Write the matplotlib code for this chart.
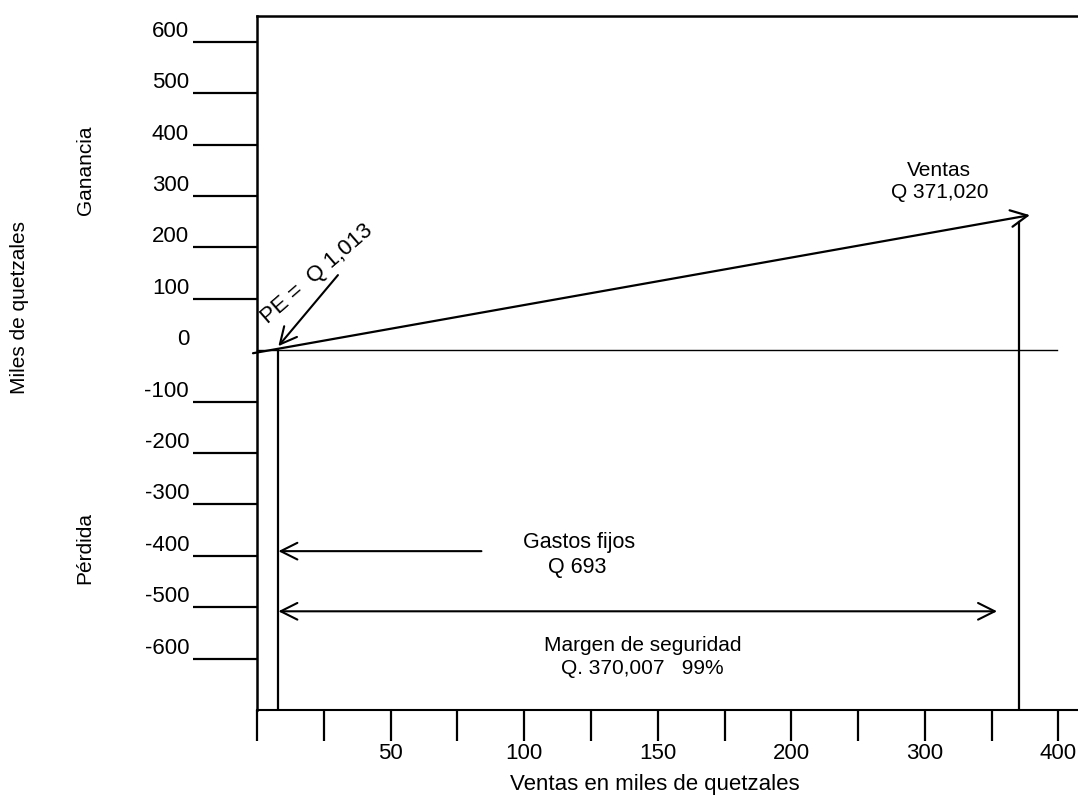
import matplotlib
matplotlib.use("Agg")
import matplotlib.pyplot as plt

plt.rcParams['font.family'] = ['Liberation Sans', 'DejaVu Sans']
FS = 15
FS_TICK = 16

# ---- data (in chart units) ----
y_ticks = [600, 500, 400, 300, 200, 100, 0, -100, -200, -300, -400, -500, -600]
y_tick_labels = ['600', '500', '400', '300', '200', '100', '0',
                 '-100', '-200', '-300', '-400', '-500', '-600']
x_ticks = [0, 25, 50, 75, 100, 125, 150, 175, 200, 225, 250, 275, 300]
x_tick_labels = ['', '', '50', '', '100', '', '150', '', '200', '', '300', '', '400']

breakeven_x = 8.0          # PE = Q 1,013
sales_line_x = [-1.5, 289.3]
sales_line_y = [-6.0, 262.6]
sales_vline_x = 285.2
sales_vline_top = 249.0
fixed_cost_arrow_x = [84.0, breakeven_x]
fixed_cost_arrow_y = -391.0
margin_arrow_x = [breakeven_x, 277.0]
margin_arrow_y = -508.0
pe_arrow_start = (30.3, 146.0)
pe_arrow_end = (breakeven_x, 7.8)

W, H = 1078, 798
fig = plt.figure(figsize=(W / 100, H / 100), dpi=100)
ax = fig.add_axes([257 / W, (H - 710) / H, (W - 257) / W, (710 - 16) / H])
ax.set_xlim(0, 307.3)
ax.set_ylim(-700, 650)
ax.patch.set_alpha(0)

for s in ['top', 'left']:
    ax.spines[s].set_linewidth(1.8)
ax.spines['bottom'].set_linewidth(1.5)
ax.spines['right'].set_visible(False)

# x ticks
ax.set_xticks(x_ticks)
ax.set_xticklabels(x_tick_labels, fontsize=FS_TICK)
ax.tick_params(axis='x', direction='out', length=22, width=1.6, pad=2)

# y ticks (0 has a label but no tick mark)
ax.set_yticks(y_ticks)
ax.set_yticklabels([])
ax.tick_params(axis='y', direction='out', length=46, width=1.6)
for t, v in zip(ax.yaxis.get_major_ticks(), y_ticks):
    if v == 0:
        t.tick1line.set_visible(False)
px_x = 821 / 307.3
px_y = 694 / 1350
for v, lab in zip(y_ticks, y_tick_labels):
    ax.text(-68 / px_x, v + 5 / px_y, lab, ha='right', va='baseline',
            fontsize=FS_TICK, clip_on=False)

# zero line
ax.plot([0, 299.4], [0, 0], color='black', lw=1.0, clip_on=False)

# sales line with arrow
ax.annotate('', xy=(sales_line_x[1], sales_line_y[1]),
            xytext=(sales_line_x[0], sales_line_y[0]),
            arrowprops=dict(arrowstyle='->,head_length=0.6,head_width=0.3',
                            mutation_scale=20, lw=1.6, color='black',
                            shrinkA=0, shrinkB=0),
            annotation_clip=False)

# vertical lines
ax.plot([breakeven_x, breakeven_x], [-700, 0], color='black', lw=1.6)
ax.plot([sales_vline_x, sales_vline_x], [-700, sales_vline_top], color='black', lw=1.6)

# PE arrow
ax.annotate('', xy=pe_arrow_end, xytext=pe_arrow_start,
            arrowprops=dict(arrowstyle='->,head_length=0.6,head_width=0.3',
                            mutation_scale=20, lw=1.5, color='black',
                            shrinkA=0, shrinkB=0))
ax.text(22.5, 148, 'PE =  Q 1,013', rotation=41, rotation_mode='anchor',
        ha='center', va='center', fontsize=FS_TICK)

# fixed costs arrow
ax.annotate('', xy=(fixed_cost_arrow_x[1], fixed_cost_arrow_y),
            xytext=(fixed_cost_arrow_x[0], fixed_cost_arrow_y),
            arrowprops=dict(arrowstyle='->,head_length=0.6,head_width=0.3',
                            mutation_scale=20, lw=1.5, color='black',
                            shrinkA=0, shrinkB=0))
# margin of safety arrow
ax.annotate('', xy=(margin_arrow_x[1], margin_arrow_y),
            xytext=(margin_arrow_x[0], margin_arrow_y),
            arrowprops=dict(arrowstyle='<->,head_length=0.6,head_width=0.3',
                            mutation_scale=20, lw=1.5, color='black',
                            shrinkA=0, shrinkB=0))

def px2data(xp, yp):
    return ((xp - 257) / px_x, (350 - yp) / px_y)

def label(xp, yp, s, fs=FS):
    x, y = px2data(xp, yp)
    ax.text(x, y, s, ha='center', va='baseline', fontsize=fs)

label(939, 176, 'Ventas')
label(940, 198, 'Q 371,020')
label(579, 548, 'Gastos fijos', 15.5)
label(577, 573, 'Q 693', 15.5)
label(643, 651, 'Margen de seguridad')
label(642, 674, 'Q. 370,007   99%')

# outer labels
fig.text(655 / W, 1 - 790 / H, 'Ventas en miles de quetzales', ha='center',
         va='baseline', fontsize=16)
fig.text(20 / W, 1 - 307 / H, 'Miles de quetzales', ha='center', va='center',
         rotation=90, fontsize=FS)
fig.text(85 / W, 1 - 170 / H, 'Ganancia', ha='center', va='center',
         rotation=90, fontsize=FS)
fig.text(85 / W, 1 - 548 / H, 'Pérdida', ha='center', va='center',
         rotation=90, fontsize=FS)

fig.savefig('out.png', dpi=100, facecolor='white')
